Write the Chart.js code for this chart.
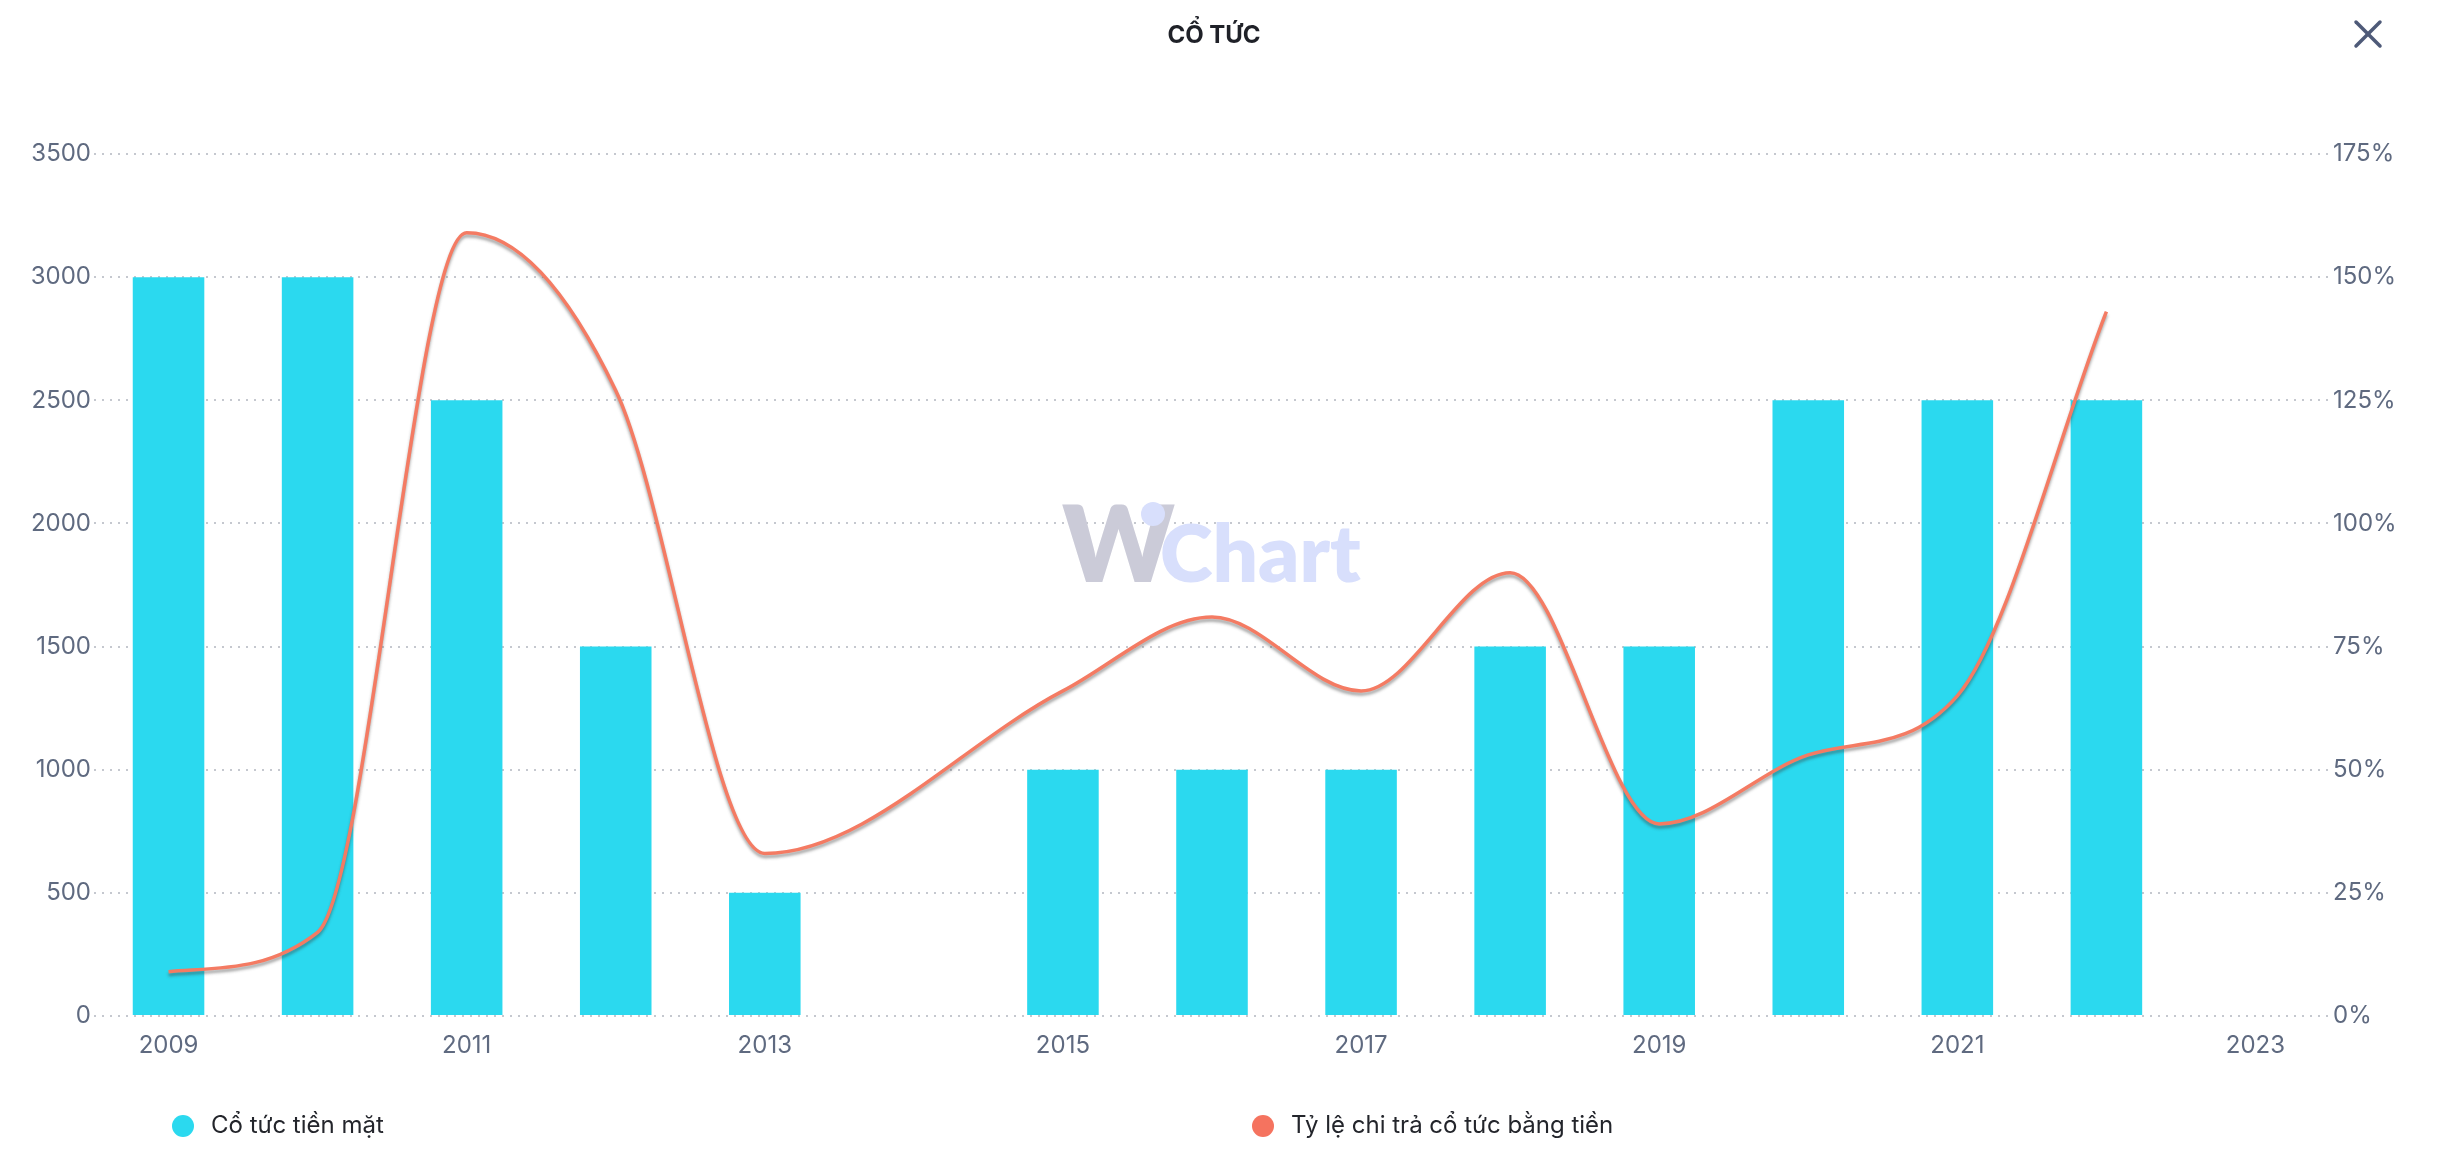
<!DOCTYPE html>
<html>
<head>
<meta charset="utf-8">
<script src="https://cdn.jsdelivr.net/npm/chart.js@4"></script>
<style>
  html, body { margin: 0; padding: 0; background: #ffffff; }
  body { width: 2438px; height: 1164px; position: relative; overflow: hidden; font-family: Inter, "Noto Sans", sans-serif; }
  #wrap { position: absolute; left: 0; top: 0; width: 2438px; height: 1164px; }
  #title { position: absolute; top: 23px; left: 1064px; width: 300px; text-align: center; font: 700 24px/24px Inter, sans-serif; color: #1f2128; }
  #close { position: absolute; left: 2350px; top: 16px; }
  .leg { position: absolute; top: 1113px; height: 24px; font: 400 24px/24px Inter, sans-serif; color: #23252b; white-space: nowrap; }
  .dot { position: absolute; width: 22px; height: 22px; border-radius: 50%; top: 1115px; }
</style>
</head>
<body>
<div id="wrap"><canvas id="c"></canvas></div>
<div id="title">CỔ TỨC</div>
<svg id="close" width="40" height="40" viewBox="0 0 40 40">
  <line x1="6" y1="6" x2="30" y2="30" stroke="#4e5a78" stroke-width="3.5" stroke-linecap="round"/>
  <line x1="30" y1="6" x2="6" y2="30" stroke="#4e5a78" stroke-width="3.5" stroke-linecap="round"/>
</svg>
<div class="dot" id="dot1"></div><div class="leg" id="leg1"></div>
<div class="dot" id="dot2"></div><div class="leg" id="leg2"></div>
<script>
const years = ['2009','2010','2011','2012','2013','2014','2015','2016','2017','2018','2019','2020','2021','2022','2023'];
const cashDividend = [3000, 3000, 2500, 1500, 500, null, 1000, 1000, 1000, 1500, 1500, 2500, 2500, 2500, null];
const payoutRatio = [9, 17, 159, 127, 33, null, 66, 81, 66, 90, 39, 53, 65, 143, null];
const seriesNames = ['Cổ tức tiền mặt', 'Tỷ lệ chi trả cổ tức bằng tiền'];
const seriesColors = ['#2bd9ef', '#f47b63'];
const legendDotColors = ['#2bd9ef', '#f5735f'];

// legend (HTML)
document.getElementById('dot1').style.cssText += 'left:172px;background:' + legendDotColors[0];
document.getElementById('dot2').style.cssText += 'left:1252px;background:' + legendDotColors[1];
const l1 = document.getElementById('leg1'); l1.textContent = seriesNames[0]; l1.style.left = '211px';
const l2 = document.getElementById('leg2'); l2.textContent = seriesNames[1]; l2.style.left = '1291px';

const shadowPlugin = {
  id: 'lineShadow',
  beforeDatasetDraw(chart, args) {
    if (args.index === 1) {
      const ctx = chart.ctx;
      ctx.save();
      ctx.shadowColor = 'rgba(60,60,60,0.45)';
      ctx.shadowBlur = 3;
      ctx.shadowOffsetX = 0;
      ctx.shadowOffsetY = 3;
    }
  },
  afterDatasetDraw(chart, args) {
    if (args.index === 1) chart.ctx.restore();
  }
};

const watermark = {
  id: 'watermark',
  beforeDatasetsDraw(chart) {
    const ctx = chart.ctx;
    ctx.save();
    ctx.textBaseline = 'alphabetic';
    ctx.textAlign = 'left';
    ctx.font = '800 106px Lato, Inter, sans-serif';
    ctx.fillStyle = '#cbcbd8';
    ctx.fillText('W', 1062, 582);
    ctx.font = '800 80px Lato, Inter, sans-serif';
    ctx.fillStyle = '#d8dffc';
    ctx.fillText('Chart', 1160, 582);
    ctx.beginPath();
    ctx.arc(1153, 514, 12, 0, Math.PI * 2);
    ctx.fill();
    ctx.restore();
  }
};

const tickFont = { family: 'Inter, sans-serif', size: 24 };
const tickColor = '#5f6a80';

new Chart(document.getElementById('c'), {
  data: {
    labels: years,
    datasets: [
      {
        type: 'bar',
        label: seriesNames[0],
        data: cashDividend,
        backgroundColor: seriesColors[0],
        borderWidth: 0,
        barPercentage: 0.48,
        categoryPercentage: 1.0,
        yAxisID: 'y',
        order: 2
      },
      {
        type: 'line',
        label: seriesNames[1],
        data: payoutRatio,
        borderColor: seriesColors[1],
        borderWidth: 3.5,
        cubicInterpolationMode: 'monotone',
        spanGaps: true,
        pointRadius: 0,
        fill: false,
        yAxisID: 'y1',
        order: 1
      }
    ]
  },
  options: {
    responsive: true,
    maintainAspectRatio: false,
    animation: false,
    layout: { padding: { top: 154, left: 0, right: 0, bottom: 0 } },
    plugins: { legend: { display: false }, title: { display: false }, tooltip: { enabled: false } },
    scales: {
      x: {
        grid: { display: false, drawTicks: false },
        border: { display: false },
        afterFit(s) { s.height = 148; },
        ticks: {
          autoSkip: false,
          maxRotation: 0,
          padding: 15,
          font: tickFont,
          color: tickColor,
          callback(v, i) { return i % 2 === 0 ? years[i] : ''; }
        }
      },
      y: {
        position: 'left',
        min: 0, max: 3500,
        afterFit(s) { s.width = 94; },
        grid: { color: '#c5c8cf', lineWidth: 2, drawTicks: false },
        border: { display: false, dash: [2, 6] },
        ticks: { stepSize: 500, padding: 3, font: tickFont, color: tickColor, callback: v => String(v) }
      },
      y1: {
        position: 'right',
        min: 0, max: 175,
        afterFit(s) { s.width = 108; },
        grid: { display: false, drawTicks: false },
        border: { display: false },
        ticks: { stepSize: 25, padding: 3, font: tickFont, color: tickColor, callback: v => v + '%' }
      }
    }
  },
  plugins: [watermark, shadowPlugin]
});
</script>
</body>
</html>
